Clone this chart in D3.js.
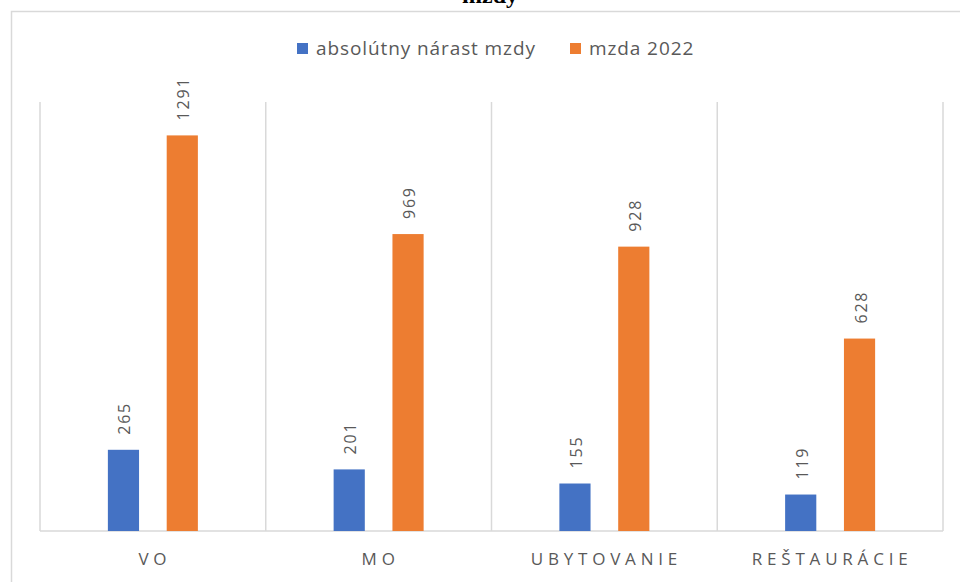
<!DOCTYPE html>
<html>
<head>
<meta charset="utf-8">
<script src="https://cdn.jsdelivr.net/npm/d3@7"></script>
<style>
  body { margin: 0; background: #fff; }
  svg { display: block; }
</style>
</head>
<body>
<svg id="chart" width="960" height="582"></svg>
<script>
(function () {
  'use strict';

  var categories = ['VO', 'MO', 'UBYTOVANIE', 'REŠTAURÁCIE'];
  var seriesNames = ['absolútny nárast mzdy', 'mzda 2022'];
  var growth = [265, 201, 155, 119];
  var wage2022 = [1291, 969, 928, 628];
  var seriesColors = ['#4472C4', '#ED7D31'];

  var font = 'Open Sans, Noto Sans, sans-serif';
  var svg = d3.select('#chart');
  var plot = { left: 40, right: 943, top: 102, bottom: 531 };

  // outer chart frame (partly outside the window)
  svg.append('rect')
    .attr('x', 11.5).attr('y', 11.5)
    .attr('width', 980).attr('height', 620)
    .attr('fill', 'none')
    .attr('stroke', '#d9d9d9')
    .attr('stroke-width', 1.5);

  // title, cut off at the top like in the source
  svg.append('text')
    .attr('x', 490).attr('y', 3)
    .attr('text-anchor', 'middle')
    .attr('font-family', 'Liberation Serif, Times New Roman, serif')
    .attr('font-weight', 'bold')
    .attr('font-size', 24)
    .attr('fill', '#000')
    .text('mzdy');

  var x0 = d3.scaleBand()
    .domain(categories)
    .range([plot.left, plot.right])
    .paddingInner(0).paddingOuter(0);

  var x1 = d3.scaleBand()
    .domain(seriesNames)
    .range([x0.bandwidth() / 2 - 45, x0.bandwidth() / 2 + 45])
    .paddingInner(0.47).paddingOuter(0);

  var y = d3.scaleLinear()
    .domain([0, 1400])
    .range([plot.bottom, plot.top]);

  // vertical category separators
  var bounds = categories.map(function (c) { return x0(c); }).concat([plot.right]);
  svg.append('g').selectAll('line')
    .data(bounds)
    .join('line')
    .attr('x1', function (d) { return d; })
    .attr('x2', function (d) { return d; })
    .attr('y1', plot.top)
    .attr('y2', plot.bottom)
    .attr('stroke', '#d9d9d9')
    .attr('stroke-width', 1.5);

  // baseline
  svg.append('line')
    .attr('x1', plot.left).attr('x2', plot.right)
    .attr('y1', plot.bottom).attr('y2', plot.bottom)
    .attr('stroke', '#d9d9d9')
    .attr('stroke-width', 1.5);

  var rows = categories.map(function (c, i) {
    return { cat: c, values: [growth[i], wage2022[i]] };
  });

  var groups = svg.append('g').selectAll('g')
    .data(rows)
    .join('g')
    .attr('transform', function (d) { return 'translate(' + x0(d.cat) + ',0)'; });

  groups.selectAll('rect')
    .data(function (d) {
      return d.values.map(function (v, i) { return { name: seriesNames[i], value: v, i: i }; });
    })
    .join('rect')
    .attr('x', function (d) { return x1(d.name); })
    .attr('width', x1.bandwidth())
    .attr('y', function (d) { return y(d.value); })
    .attr('height', function (d) { return plot.bottom - y(d.value); })
    .attr('fill', function (d) { return seriesColors[d.i]; });

  groups.selectAll('text')
    .data(function (d) {
      return d.values.map(function (v, i) { return { name: seriesNames[i], value: v }; });
    })
    .join('text')
    .attr('transform', function (d) {
      var cx = x1(d.name) + x1.bandwidth() / 2 + 7;
      return 'translate(' + cx + ',' + (y(d.value) - 15) + ') rotate(-90)';
    })
    .attr('text-anchor', 'start')
    .attr('font-family', font)
    .attr('font-size', 16)
    .attr('letter-spacing', 1.8)
    .attr('fill', '#595959')
    .text(function (d) { return d.value; });

  // category axis labels
  svg.append('g').selectAll('text')
    .data(categories)
    .join('text')
    .attr('x', function (d) { return x0(d) + x0.bandwidth() / 2 + 2; })
    .attr('y', 565)
    .attr('text-anchor', 'middle')
    .attr('font-family', font)
    .attr('font-size', 17)
    .attr('letter-spacing', 4.8)
    .attr('fill', '#595959')
    .text(function (d) { return d; });

  // legend
  var legendX = [297, 570];
  var legend = svg.append('g').selectAll('g')
    .data(seriesNames)
    .join('g')
    .attr('transform', function (d, i) { return 'translate(' + legendX[i] + ',43)'; });
  legend.append('rect')
    .attr('width', 11).attr('height', 11)
    .attr('fill', function (d, i) { return seriesColors[i]; });
  legend.append('text')
    .attr('x', 19).attr('y', 12)
    .attr('font-family', font)
    .attr('font-size', 19)
    .attr('letter-spacing', 0.9)
    .attr('fill', '#595959')
    .text(function (d) { return d; });
})();
</script>
</body>
</html>
